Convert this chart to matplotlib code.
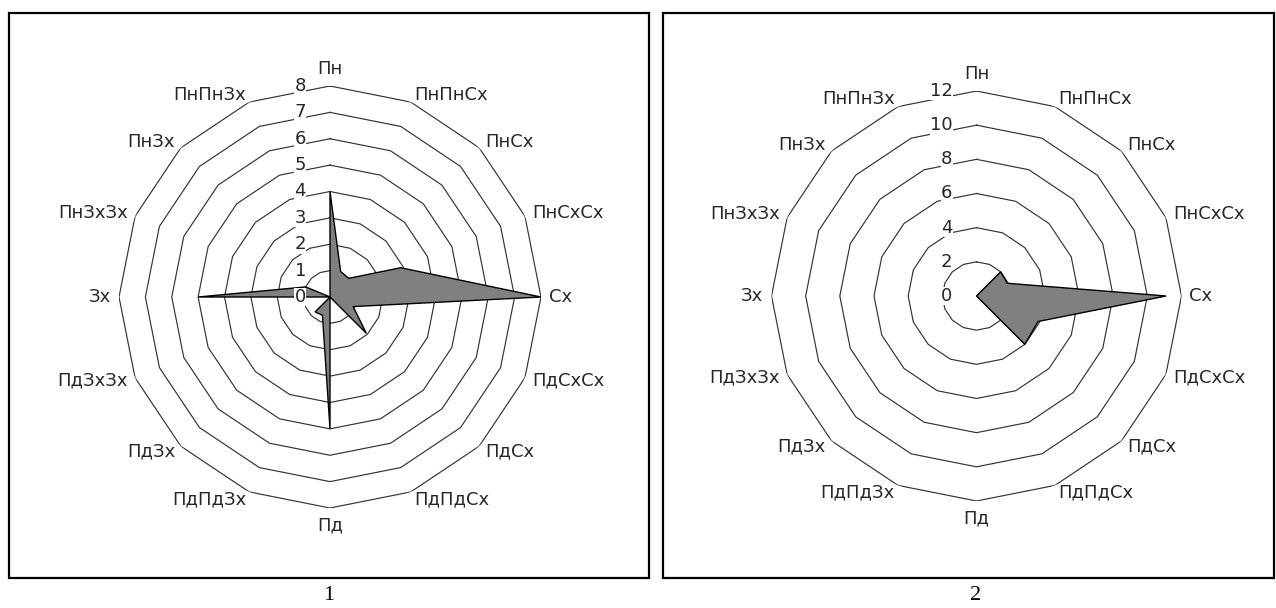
import numpy as np
import matplotlib
matplotlib.use("Agg")
import matplotlib.pyplot as plt
from matplotlib.patches import Rectangle
from matplotlib.transforms import ScaledTranslation

directions = ["Пн", "ПнПнСх", "ПнСх", "ПнСхСх", "Сх", "ПдСхСх", "ПдСх", "ПдПдСх",
              "Пд", "ПдПдЗх", "ПдЗх", "ПдЗхЗх", "Зх", "ПнЗхЗх", "ПнЗх", "ПнПнЗх"]

values_1 = [4.0, 1.05, 1.0, 2.9, 8.0, 0.95, 1.95, 0.0, 5.0, 0.75, 0.8, 0.0, 5.0, 1.0, 0.0, 0.0]
values_2 = [0.0, 0.0, 2.0, 1.95, 11.1, 3.9, 4.0, 0.0, 0.0, 0.0, 0.0, 0.0, 0.0, 0.0, 0.0, 0.0]

rings_1 = [1, 2, 3, 4, 5, 6, 7, 8]
rings_2 = [2, 4, 6, 8, 10, 12]

panel_names = ["1", "2"]

W, H = 1276, 608
DPI = 100
fig = plt.figure(figsize=(W / DPI, H / DPI), dpi=DPI)
fig.patch.set_facecolor("white")

TXT = "#262626"
FS = 13


def radar(cx, cy, rpx, rings, values, rmax):
    ax = fig.add_axes([(cx - rpx) / W, (H - cy - rpx) / H, 2 * rpx / W, 2 * rpx / H],
                      projection="polar")
    ax.set_theta_zero_location("N")
    ax.set_theta_direction(-1)
    ax.set_ylim(0, rmax)
    ax.grid(False)
    ax.set_xticks([])
    ax.set_yticks([])
    ax.spines["polar"].set_visible(False)
    ax.patch.set_alpha(0)

    n = len(directions)
    theta = np.arange(n) * 2 * np.pi / n
    theta_c = np.append(theta, theta[0])

    # polygon gridlines
    for r in rings:
        ax.plot(theta_c, [r] * (n + 1), color="#333333", lw=0.85, zorder=1)

    # data
    vals = np.append(values, values[0])
    ax.fill(theta_c, vals, facecolor="#808080", edgecolor="black", lw=1.0, zorder=3)

    # value labels left of the vertical axis
    shift = ScaledTranslation(-24 / DPI, 0, fig.dpi_scale_trans)
    for r in [0] + list(rings):
        ax.text(0, r, str(r), transform=ax.transData + shift, ha="right", va="center",
                fontsize=FS, color=TXT, zorder=4,
                bbox=dict(fc="white", ec="none", pad=0.3))

    # category labels
    off = 8 / DPI
    for t, name in zip(theta, directions):
        s, c = np.sin(t), np.cos(t)
        if abs(s) < 0.1:
            ha = "center"
            va = "bottom" if c > 0 else "top"
        else:
            ha = "left" if s > 0 else "right"
            va = "center"
        tr = ax.transData + ScaledTranslation(off * s, off * c, fig.dpi_scale_trans)
        ax.text(t, rmax, name, transform=tr, ha=ha, va=va, fontsize=FS, color=TXT)
    return ax


radar(330, 297, 211, rings_1, values_1, 8)
radar(976.5, 296, 205, rings_2, values_2, 12)

# frames round each chart
for x0, x1 in [(9, 649), (663, 1274)]:
    fig.add_artist(Rectangle((x0 / W, (H - 578) / H), (x1 - x0) / W, 565 / H,
                             transform=fig.transFigure, fill=False, ec="black", lw=1.6))

for xc, name in zip([329, 976], panel_names):
    fig.text(xc / W, (H - 596) / H, name, ha="center", va="center",
             fontsize=16, family="Liberation Serif", color="black")

fig.savefig("out.png", dpi=DPI, facecolor="white")
